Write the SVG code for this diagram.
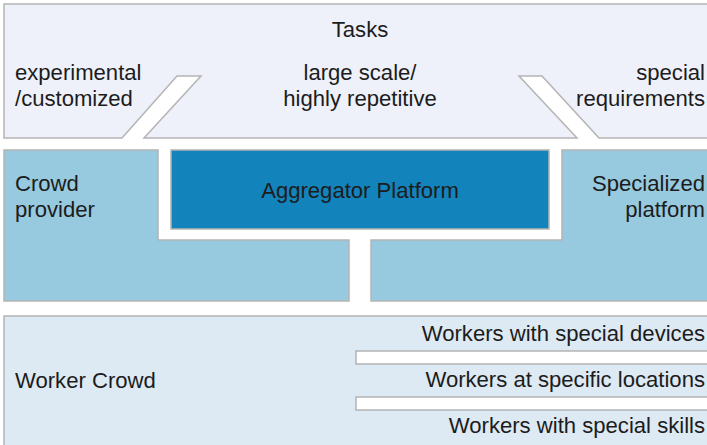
<svg xmlns="http://www.w3.org/2000/svg" width="707" height="445" viewBox="0 0 707 445">
<style>
.sh{stroke:#b4b4b4;stroke-width:1.5}
.tasks{fill:#eef0fa}
.mid{fill:#97c9df}
.agg{fill:#1383bc}
.crowd{fill:#dde9f3}
.cut{fill:#ffffff}
text{font-family:"Liberation Sans",Arial,sans-serif;font-size:22.1px;fill:#1c1c1c}
.c{text-anchor:middle}
.r{text-anchor:end}
</style>
<rect width="707" height="445" fill="#ffffff"/>
<g id="tasks">
<path class="sh tasks" d="M4,4 H712 V138 H599 L542,76 H519 L577,138 H144 L201,76 H177 L122,138 H4 Z"/>
<text class="c" x="360" y="37">Tasks</text>
<text x="15" y="80">experimental</text>
<text x="15" y="106">/customized</text>
<text class="c" x="360" y="80">large scale/</text>
<text class="c" x="360" y="106">highly repetitive</text>
<text class="r" x="705" y="80">special</text>
<text class="r" x="705" y="106">requirements</text>
</g>
<g id="crowd-provider">
<path class="sh mid" d="M4,150 H158 V240 H349 V301 H4 Z"/>
<text x="15" y="191">Crowd</text>
<text x="15" y="217">provider</text>
</g>
<g id="aggregator-platform">
<rect class="sh agg" x="171" y="150" width="378" height="79"/>
<text class="c" x="360" y="198">Aggregator Platform</text>
</g>
<g id="specialized-platform">
<path class="sh mid" d="M562,150 H712 V301 H371 V240 H562 Z"/>
<text class="r" x="705" y="191">Specialized</text>
<text class="r" x="705" y="217">platform</text>
</g>
<g id="worker-crowd">
<rect class="sh crowd" x="4" y="316" width="708" height="132"/>
<rect class="sh cut" x="356" y="351" width="356" height="13"/>
<rect class="sh cut" x="356" y="397" width="356" height="13"/>
<text x="15" y="388">Worker Crowd</text>
<text class="r" x="705" y="341">Workers with special devices</text>
<text class="r" x="705" y="387">Workers at specific locations</text>
<text class="r" x="705" y="433">Workers with special skills</text>
</g>
<g id="connectors"></g>
</svg>
